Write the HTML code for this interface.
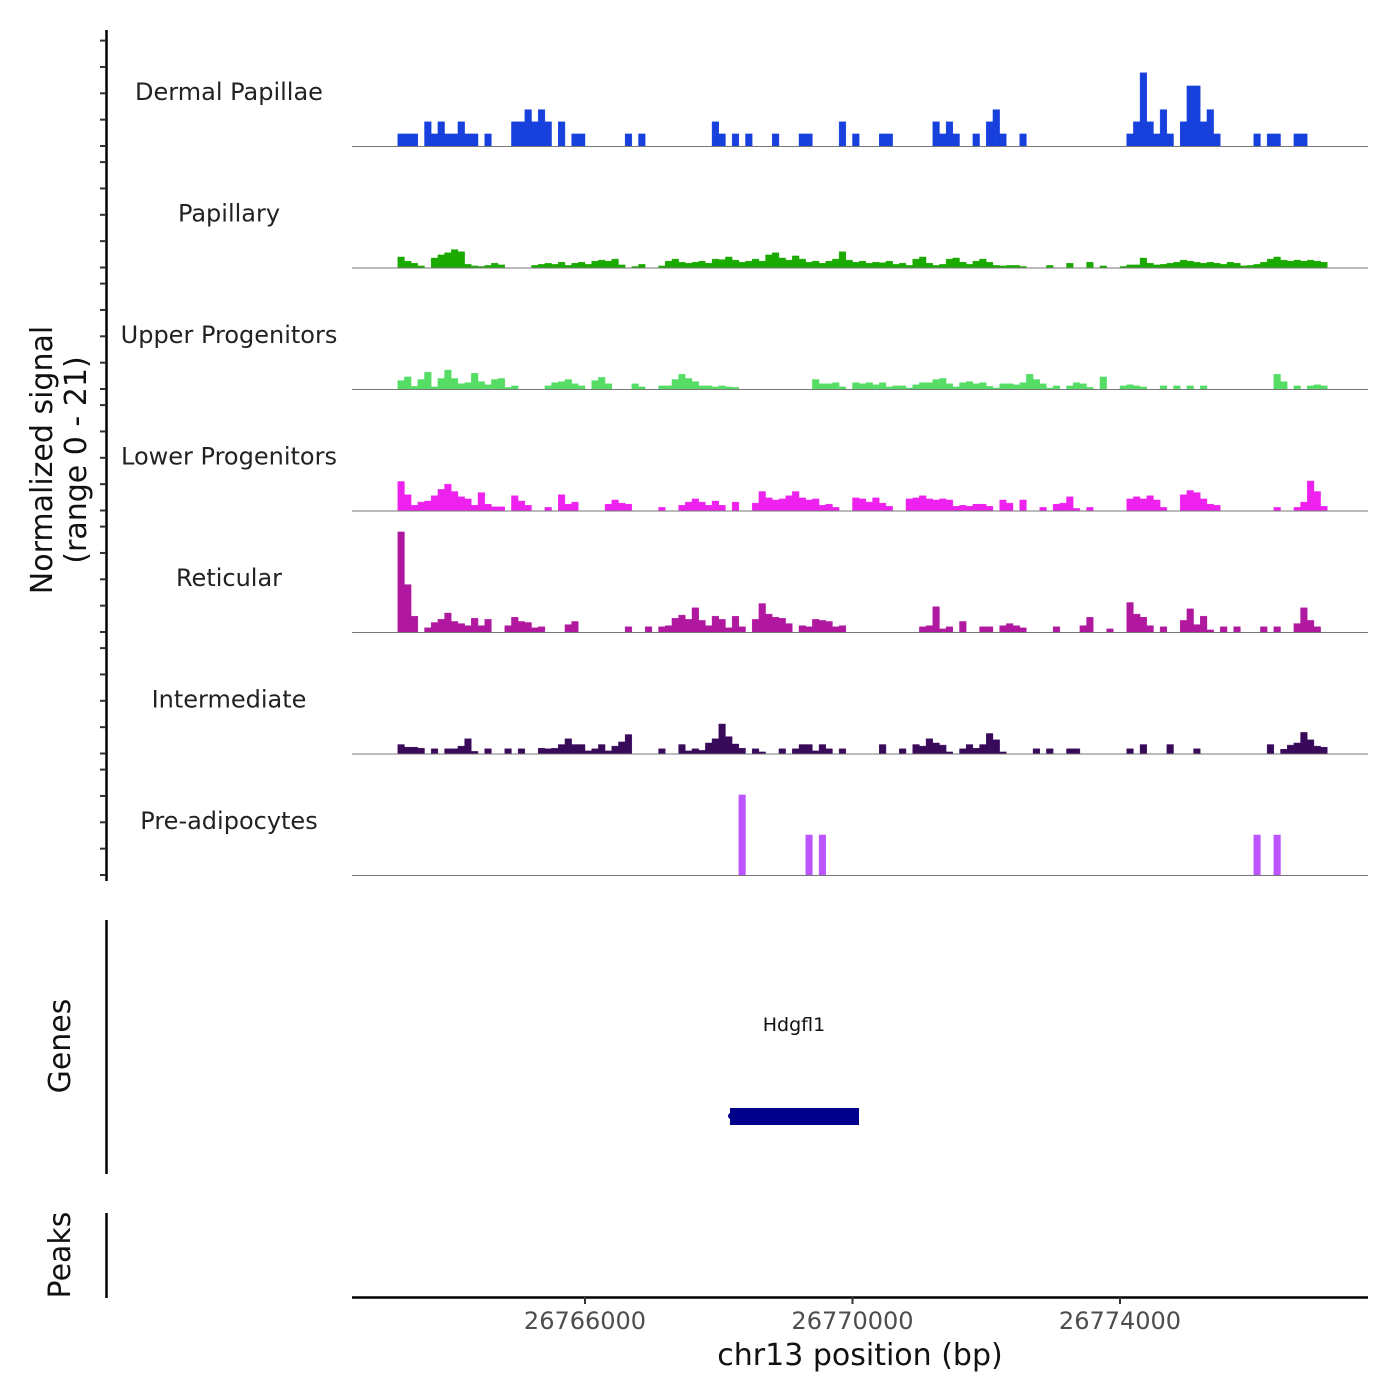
<!DOCTYPE html>
<html><head><meta charset="utf-8"><style>
html,body{margin:0;padding:0;background:#fff;}
svg{display:block;font-family:"DejaVu Sans","Liberation Sans",sans-serif;}
</style></head><body>
<svg id="chart" width="1400" height="1400" viewBox="0 0 1400 1400" xmlns="http://www.w3.org/2000/svg">
<g id="tracks"></g>
<g id="yaxis"></g>
<text transform="translate(52,460) rotate(-90)" text-anchor="middle" font-size="30" fill="#111">Normalized signal</text>
<text transform="translate(86,460) rotate(-90)" text-anchor="middle" font-size="30" fill="#111">(range 0 - 21)</text>
<line x1="106.5" y1="920" x2="106.5" y2="1174" stroke="#000" stroke-width="2.5"/>
<text transform="translate(70,1046) rotate(-90)" text-anchor="middle" font-size="30" fill="#111">Genes</text>
<text x="794" y="1031" text-anchor="middle" font-size="19" fill="#111">Hdgfl1</text>
<rect x="730" y="1108" width="129" height="17" fill="#00008b"/>
<circle cx="731" cy="1116" r="3" fill="#00008b"/>
<line x1="106.5" y1="1213" x2="106.5" y2="1298" stroke="#000" stroke-width="2.5"/>
<text transform="translate(70,1255) rotate(-90)" text-anchor="middle" font-size="30" fill="#111">Peaks</text>
<line x1="352" y1="1297.5" x2="1368" y2="1297.5" stroke="#000" stroke-width="2.5"/>
<g id="xaxis"></g>
<text x="860" y="1365" text-anchor="middle" font-size="30" fill="#111">chr13 position (bp)</text>
</svg>
<script>
const trackNames = ["Dermal Papillae","Papillary","Upper Progenitors","Lower Progenitors","Reticular","Intermediate","Pre-adipocytes"];
const trackColors = ["#1740dd","#1aaa00","#55dd66","#ee22ee","#b0189f","#3a0a5a","#bb55ff"];
const binStart = 26763200;
const binSize = 100;
const dermal = [2.3,2.3,2.3,0,4.6,2.3,4.6,2.3,2.3,4.6,2.3,2.3,0,2.3,0,0,0,4.6,4.6,6.9,4.6,6.9,4.6,0,4.6,0,2.3,2.3,0,0,0,0,0,0,2.3,0,2.3,0,0,0,0,0,0,0,0,0,0,4.6,2.3,0,2.3,0,2.3,0,0,0,2.3,0,0,0,2.3,2.3,0,0,0,0,4.6,0,2.3,0,0,0,2.3,2.3,0,0,0,0,0,0,4.6,2.3,4.6,2.3,0,0,2.3,0,4.6,6.9,2.3,0,0,2.3,0,0,0,0,0,0,0,0,0,0,0,0,0,0,0,2.3,4.6,13.9,4.6,2.3,6.9,2.3,0,4.6,11.4,11.4,4.6,6.9,2.3,0,0,0,0,0,2.3,0,2.3,2.3,0,0,2.3,2.3,0,0,0];
const papillary = [2.0,1.2,0.8,0.3,0,1.8,2.4,2.8,3.4,3.0,0.6,0.3,0.2,0.4,0.8,0.5,0,0,0,0,0.4,0.6,0.8,0.6,1.0,0.4,0.8,1.0,0.6,1.2,1.4,1.2,1.6,0.5,0,0.2,0.6,0,0,0.3,1.2,1.6,1.0,0.8,1.0,1.2,0.8,1.6,1.5,2.0,1.4,1.0,1.2,1.6,1.2,2.4,2.8,1.8,1.4,2.2,1.6,1.0,1.2,0.8,1.2,1.6,3.0,1.4,1.0,1.2,0.8,1.0,0.9,1.2,0.6,0.8,0.4,1.6,2.0,0.8,0.4,0.6,1.6,1.8,1.0,0.6,1.2,1.6,1.0,0.4,0.3,0.4,0.4,0.2,0,0,0,0.4,0,0,0.8,0,0,1.0,0,0.3,0,0,0.2,0.5,0.5,1.8,0.8,0.5,0.6,0.8,1.0,1.4,1.2,1.0,0.8,1.0,0.8,0.6,1.0,0.8,0.3,0.4,0.6,1.0,1.6,2.0,1.4,1.2,1.4,1.2,1.4,1.2,1.0];
const upper = [1.6,2.3,0.5,1.8,3.2,0.4,2.0,3.6,2.0,1.0,1.2,3.0,1.4,0.8,1.8,2.0,0.3,0.6,0,0,0,0,0.6,1.2,1.4,1.8,1.0,0.6,0,1.6,2.2,1.0,0,0,0,1.0,0.4,0,0,0.6,0.6,1.8,2.8,2.0,1.4,0.6,0.6,0.4,0.6,0.4,0.3,0,0,0,0,0,0,0,0,0,0,0,1.8,1.0,1.0,1.2,0.4,0,1.2,1.0,1.2,0.8,1.2,0.4,0.6,0.6,0.2,0.8,1.2,1.2,1.8,2.0,1.0,0.4,1.2,1.4,1.0,1.2,0.5,0.2,1.0,1.0,0.8,1.2,2.8,1.8,1.0,0.2,0.6,0,0.6,1.2,1.0,0.3,0,2.3,0,0,0.6,0.8,0.6,0.4,0,0,0.6,0,0.6,0,0.6,0,0.6,0,0,0,0,0,0,0,0,0,0,2.8,1.4,0,0.6,0,0.6,0.8,0.6];
const lower = [5.5,3.0,1.0,1.6,1.8,2.8,4.0,5.0,3.6,2.6,2.2,1.0,3.4,1.2,0.7,0.7,0,2.8,1.8,1.0,0,0,0.6,0,3.0,1.2,1.6,0,0,0,0,1.2,2.0,1.4,1.2,0,0,0,0,0.6,0,0,1.0,1.6,2.2,1.6,1.0,1.8,1.0,0,1.6,0,0,1.4,3.6,2.4,2.0,2.2,2.8,3.6,2.4,2.0,2.2,1.0,1.2,0.6,0,0,2.4,2.2,1.6,2.4,1.4,0.8,0,0,2.2,2.4,2.8,2.2,2.0,2.2,2.0,0.8,1.0,0.8,1.2,1.2,0.8,0,2.0,1.4,0,2.0,0,0,0.6,0,1.2,1.4,2.6,0.4,0,0.6,0,0,0,0,0,2.2,2.6,2.2,2.8,2.0,0.6,0,0,3.0,3.8,3.4,2.2,1.2,1.0,0,0,0,0,0,0,0,0,0.6,0,0,0.6,1.6,5.6,3.6,0.8];
const reticular = [19,9,3.0,0,0.8,1.8,2.4,3.6,2.0,1.6,1.2,2.6,1.2,2.4,0,0,1.2,2.8,2.0,1.8,0.8,1.0,0,0,0,1.4,2.0,0,0,0,0,0,0,0,1.0,0,0,1.0,0,1.0,1.2,2.6,3.2,2.4,4.6,2.2,1.2,3.0,2.4,0.8,3.0,1.0,0,2.4,5.4,3.4,2.8,2.6,1.6,0,1.2,1.0,2.4,2.2,2.0,1.0,1.2,0,0,0,0,0,0,0,0,0,0,0,1.0,1.2,4.8,0.6,1.0,0,2.0,0,0,1.0,1.0,0,1.2,1.6,1.2,0.8,0,0,0,0,1.0,0,0,0,1.2,2.8,0,0,0.6,0,0,5.6,3.4,2.8,1.2,0,1.0,0,0,2.2,4.4,1.4,3.0,0.4,0,1.0,0,1.0,0,0,0,1.0,0,1.0,0,0,1.6,4.6,2.2,1.0,0];
const intermediate = [1.7,1.2,1.2,1.0,0,0.9,0,0.9,0.9,1.4,2.8,0.4,0,0.9,0,0,0.9,0,0.9,0,0,1.0,0.9,1.0,1.7,2.8,1.7,1.7,0.5,0.9,1.7,0.5,1.4,2.2,3.6,0,0,0,0,0.9,0,0,1.7,0.5,0.9,0.6,2.0,2.8,5.6,3.2,1.8,1.0,0,0.9,0.3,0,0,0.9,0,0.9,1.7,1.7,0.5,1.7,0.9,0,0.9,0,0,0,0,0,1.7,0,0,0.9,0,1.7,1.4,2.8,2.0,1.6,0.3,0,0.9,1.7,1.0,1.7,3.8,2.6,0.3,0,0,0,0,0.9,0,0.9,0,0,0.9,0.9,0,0,0,0,0,0,0,0.9,0,1.7,0,0,0,1.7,0,0,0,0.9,0,0,0,0,0,0,0,0,0,0,1.7,0,0.8,1.6,2.0,4.0,2.6,1.4,1.2];
const preadipocyte = [0,0,0,0,0,0,0,0,0,0,0,0,0,0,0,0,0,0,0,0,0,0,0,0,0,0,0,0,0,0,0,0,0,0,0,0,0,0,0,0,0,0,0,0,0,0,0,0,0,0,0,15.2,0,0,0,0,0,0,0,0,0,7.6,0,7.6,0,0,0,0,0,0,0,0,0,0,0,0,0,0,0,0,0,0,0,0,0,0,0,0,0,0,0,0,0,0,0,0,0,0,0,0,0,0,0,0,0,0,0,0,0,0,0,0,0,0,0,0,0,0,0,0,0,0,0,0,0,0,0,0,7.6,0,0,7.6,0,0,0,0,0,0,0];
const trackValues = [dermal,papillary,upper,lower,reticular,intermediate,preadipocyte];
const yTickValues = [0,5,10,15,20];
const xTickValues = [26766000,26770000,26774000];
const xTickLabels = ["26766000","26770000","26774000"];

const NS = "http://www.w3.org/2000/svg";
const xScale = bp => 585 + (bp - 26766000) * (267.5 / 4000);
const baseY = i => 146 + i * 121.5;
const yScale = (i, v) => baseY(i) - v * 5.27;
function mk(tag, attrs, parent) {
  const e = document.createElementNS(NS, tag);
  for (const k in attrs) e.setAttribute(k, attrs[k]);
  parent.appendChild(e);
  return e;
}
const tracksG = document.getElementById('tracks');
trackValues.forEach((vals, t) => {
  const g = mk('g', {}, tracksG);
  
  
  let d = '';
  const b = baseY(t);
  vals.forEach((v, i) => {
    if (v <= 0) return;
    const x0 = xScale(binStart + i * binSize), x1 = xScale(binStart + (i + 1) * binSize);
    d += `M${x0.toFixed(2)},${b}L${x0.toFixed(2)},${yScale(t, v).toFixed(2)}L${x1.toFixed(2)},${yScale(t, v).toFixed(2)}L${x1.toFixed(2)},${b}Z`;
  });
  const p = mk('path', {d: d, fill: trackColors[t], stroke: trackColors[t], 'stroke-width': 0.4}, g);
  
  
  const bl = mk('line', {x1: 352, x2: 1368, y1: b + 0.5, y2: b + 0.5, stroke: '#777', 'stroke-width': 1}, g);
  
  
  const lab = mk('text', {x: 229, y: b - 46, 'text-anchor': 'middle', 'font-size': 24, fill: '#222'}, g);
  
  
  lab.textContent = trackNames[t];
});
const yG = document.getElementById('yaxis');
const yl = mk('line', {x1: 106.5, x2: 106.5, y1: 30, y2: 881, stroke: '#000', 'stroke-width': 2.5}, yG);


trackValues.forEach((vals, t) => {
  yTickValues.forEach(v => {
    const y = yScale(t, v);
    const tk = mk('line', {x1: 100, x2: 106, y1: y, y2: y, stroke: '#333', 'stroke-width': 2}, yG);
    
    
  });
});
const xG = document.getElementById('xaxis');
xTickValues.forEach((v, i) => {
  const x = xScale(v);
  const tk = mk('line', {x1: x, x2: x, y1: 1297, y2: 1304, stroke: '#333', 'stroke-width': 2}, xG);
  
  
  const tl = mk('text', {x: x, y: 1329, 'text-anchor': 'middle', 'font-size': 24, fill: '#4d4d4d'}, xG);
  
  
  tl.textContent = xTickLabels[i];
});
</script>
</body></html>
